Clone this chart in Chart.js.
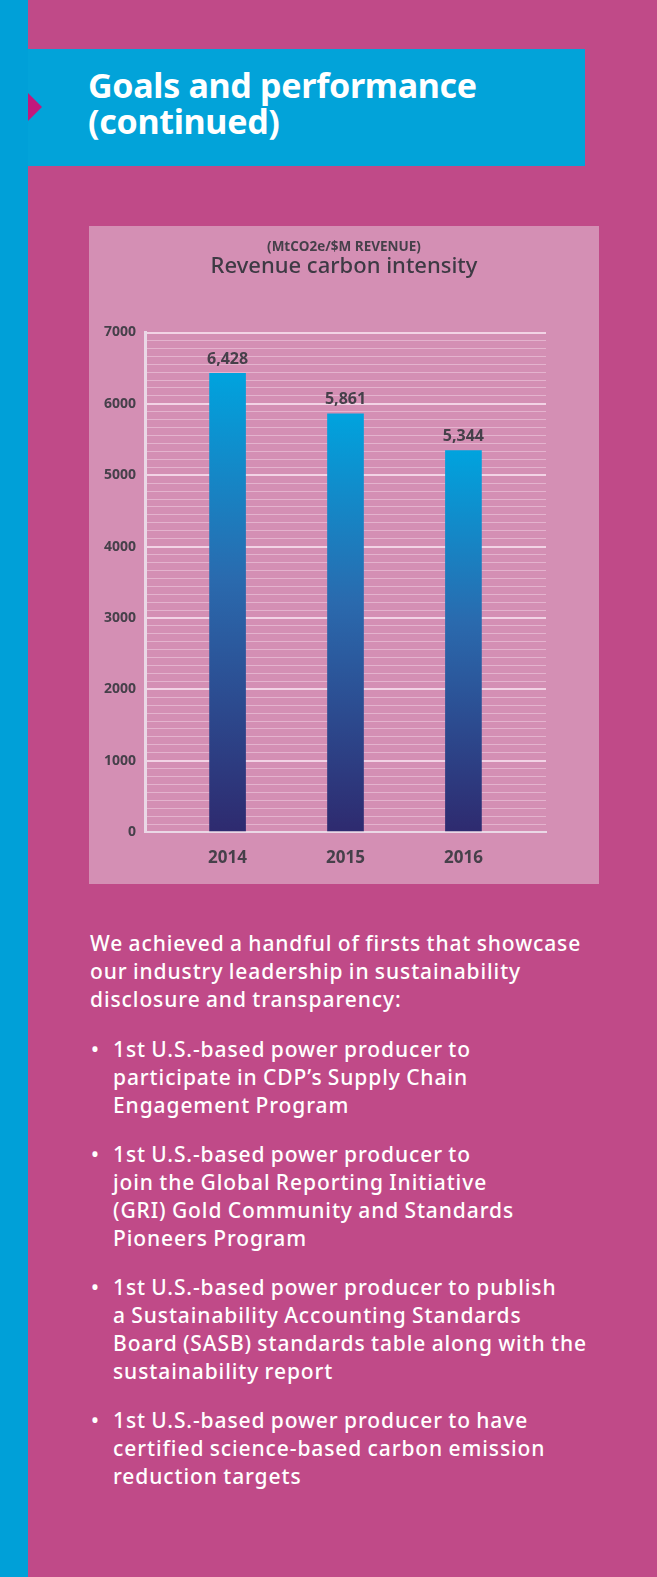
<!DOCTYPE html>
<html>
<head>
<meta charset="utf-8">
<script src="https://cdn.jsdelivr.net/npm/chart.js@4.4.0/dist/chart.umd.min.js"></script>
<style>
  body { margin: 0; }
  #page { position: relative; width: 657px; height: 1577px; background: #c04a88; overflow: hidden; font-family: "Noto Sans", sans-serif; }
  .strip { position: absolute; left: 0; top: 0; width: 28px; height: 1577px; background: #00a0d8; }
  .header { position: absolute; left: 28px; top: 49px; width: 557px; height: 117px; background: #02a3d9; }
  .tri { position: absolute; left: 28px; top: 93px; width: 0; height: 0; border-left: 14px solid #c2187c; border-top: 14px solid transparent; border-bottom: 14px solid transparent; }
  h1 { position: absolute; left: 88px; top: 67px; margin: 0; color: #fff; font-size: 34px; line-height: 36px; font-weight: 700; letter-spacing: -0.3px; }
  .panel { position: absolute; left: 89px; top: 226px; width: 510px; height: 658px; background: #d48fb4; }
  .panel canvas { display: block; }
  .text { position: absolute; left: 90px; top: 929px; width: 560px; color: #fff; font-size: 21px; line-height: 28px; font-weight: 500; letter-spacing: 0.9px; word-spacing: -1px; }
  .text p { margin: 0 0 22px 0; }
  .text ul { list-style: none; margin: 0; padding: 0; }
  .text li { position: relative; padding-left: 23px; margin-bottom: 21px; }
  .text li:before { content: "\2022"; position: absolute; left: 1px; top: 0; }
</style>
</head>
<body>
<div id="page">
  <div class="strip"></div>
  <div class="header"></div>
  <div class="tri"></div>
  <h1>Goals and performance<br>(continued)</h1>
  <div class="panel"><canvas id="myChart" width="510" height="658"></canvas></div>
  <div class="text">
    <p>We achieved a handful of firsts that showcase<br>our industry leadership in sustainability<br>disclosure and transparency:</p>
    <ul>
      <li>1st U.S.-based power producer to<br>participate in CDP’s Supply Chain<br>Engagement Program</li>
      <li>1st U.S.-based power producer to<br>join the Global Reporting Initiative<br>(GRI) Gold Community and Standards<br>Pioneers Program</li>
      <li>1st U.S.-based power producer to publish<br>a Sustainability Accounting Standards<br>Board (SASB) standards table along with the<br>sustainability report</li>
      <li>1st U.S.-based power producer to have<br>certified science-based carbon emission<br>reduction targets</li>
    </ul>
  </div>
</div>
<script>
const years = ['2014', '2015', '2016'];
const intensity = [6428, 5861, 5344];
const yMax = 7000;
const majorStep = 1000;
const minorPerMajor = 9;

// gradient per bar, from its top down to the base
function barGradient(c) {
    const chart = c.chart;
    const ys = chart.scales.y;
    if (!ys || !chart.chartArea || !c.parsed) return '#1f6fb0';
    const top = ys.getPixelForValue(c.parsed.y);
    const base = ys.getPixelForValue(0);
    if (!isFinite(top) || !isFinite(base)) return '#1f6fb0';
    const g = chart.ctx.createLinearGradient(0, top, 0, base);
    g.addColorStop(0, '#00a3de');
    g.addColorStop(0.45, '#2a6aae');
    g.addColorStop(1, '#2e2a6f');
    return g;
}

const valueLabels = {
    id: 'valueLabels',
    afterDatasetsDraw(chart) {
        const ctx = chart.ctx;
        const meta = chart.getDatasetMeta(0);
        ctx.save();
        ctx.font = 'bold 16px "Open Sans"';
        ctx.fillStyle = '#46404a';
        ctx.textAlign = 'center';
        ctx.textBaseline = 'bottom';
        meta.data.forEach((el, i) => {
            ctx.fillText(intensity[i].toLocaleString('en-US'), el.x, el.y - 6);
        });
        ctx.restore();
    }
};

// titles are centred on the whole panel, not on the padded area
const centerTitles = {
    id: 'centerTitles',
    afterLayout(chart) {
        chart.boxes.forEach(b => {
            if (b.options && b.options.text !== undefined && b.options.position === 'top') {
                b.left = 0;
                b.right = chart.width;
                b.width = chart.width;
            }
        });
    }
};

const ctx = document.getElementById('myChart').getContext('2d');
const myChart = new Chart(ctx, {
    type: 'bar',
    data: {
        datasets: [{
            data: intensity.map((v, i) => ({ x: i, y: v })),
            backgroundColor: barGradient,
            barThickness: 36,
            borderWidth: 0
        }]
    },
    plugins: [valueLabels, centerTitles],
    options: {
        responsive: false,
        animation: false,
        layout: { padding: { left: 0, right: 53, top: 0, bottom: 0 } },
        plugins: {
            legend: { display: false },
            tooltip: { enabled: false },
            title: {
                display: true,
                text: '(MtCO2e/$M REVENUE)',
                color: '#46404a',
                font: { family: 'Open Sans', size: 13.5, weight: 'bold', lineHeight: 1 },
                padding: { top: 14, bottom: 2 }
            },
            subtitle: {
                display: true,
                text: 'Revenue carbon intensity',
                color: '#3e3a44',
                font: { family: 'Noto Sans', size: 22, weight: '500', lineHeight: 1 },
                padding: { top: 0, bottom: 55 }
            }
        },
        scales: {
            x: {
                type: 'linear',
                offset: false,
                min: -0.7,
                max: 2.7,
                afterBuildTicks: s => { s.ticks = years.map((_, i) => ({ value: i })); },
                afterFit: s => { s.height = 52; },
                grid: { display: false, drawTicks: false },
                border: { display: true, color: '#ead8e6', width: 2 },
                ticks: {
                    padding: 16,
                    color: '#46404a',
                    font: { family: 'Open Sans', size: 17, weight: 'bold' },
                    callback: v => years[v]
                }
            },
            y: {
                min: 0,
                max: yMax,
                afterBuildTicks: s => {
                    const n = (yMax / majorStep) * minorPerMajor;
                    const t = [];
                    for (let i = 0; i <= n; i++) t.push({ value: i * majorStep / minorPerMajor });
                    s.ticks = t;
                },
                afterFit: s => { s.width = 56; },
                grid: {
                    drawTicks: false,
                    color: c => c.index % minorPerMajor === 0 ? 'rgba(255,240,250,0.7)' : 'rgba(255,240,250,0.38)',
                    lineWidth: c => c.index % minorPerMajor === 0 ? 2 : 1
                },
                border: { display: true, color: '#ead8e6', width: 3 },
                ticks: {
                    autoSkip: false,
                    padding: 9,
                    color: '#46404a',
                    font: { family: 'Open Sans', size: 14, weight: 'bold' },
                    callback: (v, i) => i % minorPerMajor === 0 ? String(Math.round(v)) : ''
                }
            }
        }
    }
});
</script>
</body>
</html>
